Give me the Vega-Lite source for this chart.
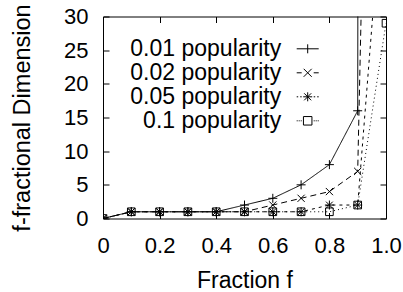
{
  "$schema": "https://vega.github.io/schema/vega-lite/v6.json",
  "width": 283,
  "height": 202,
  "autosize": "none",
  "padding": {"left": 103, "top": 16.5, "right": 17, "bottom": 73.5},
  "background": "white",
  "config": {
    "font": "Liberation Sans",
    "view": {"stroke": "black", "strokeWidth": 1},
    "axis": {
      "labelFontSize": 22, "labelColor": "black", "labelFont": "Liberation Sans",
      "titleFontSize": 23, "titleColor": "black", "titleFontWeight": "normal", "titleFont": "Liberation Sans",
      "tickColor": "black", "tickWidth": 1, "tickSize": -6, "domain": false, "grid": false, "labelFlush": false, "labelOverlap": false
    }
  },
  "datasets": {
    "d": [
      {"s": "0.01 popularity", "f": 0, "v": 0}, {"s": "0.01 popularity", "f": 0.1, "v": 1}, {"s": "0.01 popularity", "f": 0.2, "v": 1}, {"s": "0.01 popularity", "f": 0.3, "v": 1}, {"s": "0.01 popularity", "f": 0.4, "v": 1}, {"s": "0.01 popularity", "f": 0.5, "v": 2}, {"s": "0.01 popularity", "f": 0.6, "v": 3}, {"s": "0.01 popularity", "f": 0.7, "v": 5}, {"s": "0.01 popularity", "f": 0.8, "v": 8}, {"s": "0.01 popularity", "f": 0.9, "v": 16}, {"s": "0.01 popularity", "f": 1.0, "v": 3000},
      {"s": "0.02 popularity", "f": 0, "v": 0}, {"s": "0.02 popularity", "f": 0.1, "v": 1}, {"s": "0.02 popularity", "f": 0.2, "v": 1}, {"s": "0.02 popularity", "f": 0.3, "v": 1}, {"s": "0.02 popularity", "f": 0.4, "v": 1}, {"s": "0.02 popularity", "f": 0.5, "v": 1}, {"s": "0.02 popularity", "f": 0.6, "v": 2}, {"s": "0.02 popularity", "f": 0.7, "v": 3}, {"s": "0.02 popularity", "f": 0.8, "v": 4}, {"s": "0.02 popularity", "f": 0.9, "v": 7}, {"s": "0.02 popularity", "f": 1.0, "v": 200},
      {"s": "0.05 popularity", "f": 0, "v": 0}, {"s": "0.05 popularity", "f": 0.1, "v": 1}, {"s": "0.05 popularity", "f": 0.2, "v": 1}, {"s": "0.05 popularity", "f": 0.3, "v": 1}, {"s": "0.05 popularity", "f": 0.4, "v": 1}, {"s": "0.05 popularity", "f": 0.5, "v": 1}, {"s": "0.05 popularity", "f": 0.6, "v": 1}, {"s": "0.05 popularity", "f": 0.7, "v": 1}, {"s": "0.05 popularity", "f": 0.8, "v": 2}, {"s": "0.05 popularity", "f": 0.9, "v": 2}, {"s": "0.05 popularity", "f": 1.0, "v": 55},
      {"s": "0.1 popularity", "f": 0, "v": 0}, {"s": "0.1 popularity", "f": 0.1, "v": 1}, {"s": "0.1 popularity", "f": 0.2, "v": 1}, {"s": "0.1 popularity", "f": 0.3, "v": 1}, {"s": "0.1 popularity", "f": 0.4, "v": 1}, {"s": "0.1 popularity", "f": 0.5, "v": 1}, {"s": "0.1 popularity", "f": 0.6, "v": 1}, {"s": "0.1 popularity", "f": 0.7, "v": 1}, {"s": "0.1 popularity", "f": 0.8, "v": 1}, {"s": "0.1 popularity", "f": 0.9, "v": 2}, {"s": "0.1 popularity", "f": 1.0, "v": 29}
    ]
  },
  "data": {"name": "d"},
  "layer": [
    {
      "mark": {"type": "line", "clip": true, "stroke": "black", "strokeWidth": 1},
      "encoding": {
        "x": {"field": "f", "type": "quantitative", "scale": {"domain": [0, 1], "nice": false},
          "axis": {"orient": "bottom", "values": [0, 0.2, 0.4, 0.6, 0.8, 1], "labelExpr": "datum.value == 0 ? '0' : format(datum.value, '.1f')", "labelPadding": 23, "title": "Fraction f", "titlePadding": 13}},
        "y": {"field": "v", "type": "quantitative", "scale": {"domain": [0, 30], "nice": false, "zero": false},
          "axis": {"orient": "left", "values": [0, 5, 10, 15, 20, 25, 30], "format": "d", "labelPadding": 21, "title": "f-fractional Dimension", "titleFontSize": 23.5, "titlePadding": 29}},
        "strokeDash": {"field": "s", "type": "nominal",
          "scale": {"domain": ["0.01 popularity", "0.02 popularity", "0.05 popularity", "0.1 popularity"], "range": [[1, 0], [6, 4], [3, 4], [1, 3]]},
          "legend": null}
      }
    },
    {
      "mark": {"type": "point", "clip": true, "filled": false, "stroke": "black", "strokeWidth": 1, "size": 81, "opacity": 1},
      "encoding": {
        "x": {"field": "f", "type": "quantitative", "axis": {"orient": "top", "values": [0, 0.2, 0.4, 0.6, 0.8, 1], "labels": false, "title": null}},
        "y": {"field": "v", "type": "quantitative", "axis": {"orient": "right", "values": [0, 5, 10, 15, 20, 25, 30], "labels": false, "title": null}},
        "shape": {"field": "s", "type": "nominal",
          "scale": {"domain": ["0.01 popularity", "0.02 popularity", "0.05 popularity", "0.1 popularity"],
            "range": ["M-1,0H1M0,-1V1", "M-0.8,-0.8L0.8,0.8M-0.8,0.8L0.8,-0.8", "M-1,0H1M0,-1V1M-0.75,-0.75L0.75,0.75M-0.75,0.75L0.75,-0.75", "M-0.85,-0.85H0.85V0.85H-0.85Z"]},
          "legend": null}
      }
    },
    {
      "transform": [{"filter": "false"}],
      "mark": {"type": "point", "filled": false, "stroke": "black", "strokeWidth": 1, "opacity": 1},
      "encoding": {
        "shape": {"field": "s", "type": "nominal",
          "scale": {"domain": ["0.01 popularity", "0.02 popularity", "0.05 popularity", "0.1 popularity"],
            "range": [
              "M-2.2,0H2.2M0,-0.9V0.9",
              "M-2.2,0H-1.2M1.2,0H2.2M-0.8,-0.8L0.8,0.8M-0.8,0.8L0.8,-0.8",
              "M-2.2,0H-1.9M-1.5,0H-1.2M1.2,0H1.5M1.9,0H2.2M-0.9,0H0.9M0,-0.9V0.9M-0.7,-0.7L0.7,0.7M-0.7,0.7L0.7,-0.7",
              "M-2.2,0h0.2M-1.8,0h0.2M-1.4,0h0.2M1.2,0h0.2M1.6,0h0.2M2.0,0h0.2M-0.85,-0.85H0.85V0.85H-0.85Z"
            ]},
          "legend": {
            "title": null, "orient": "none", "legendX": 193.2, "legendY": 20.8, "padding": 0,
            "labelFontSize": 23, "labelColor": "black", "labelFont": "Liberation Sans", "labelAlign": "right", "labelOffset": -38, "labelLimit": 400,
            "symbolSize": 100, "symbolStrokeWidth": 1, "symbolStrokeColor": "black", "symbolFillColor": "transparent", "symbolOpacity": 1,
            "rowPadding": -1.6
          }
        }
      }
    }
  ],
  "resolve": {"scale": {"shape": "independent"}, "axis": {"x": "independent", "y": "independent"}, "legend": {"shape": "independent"}}
}
